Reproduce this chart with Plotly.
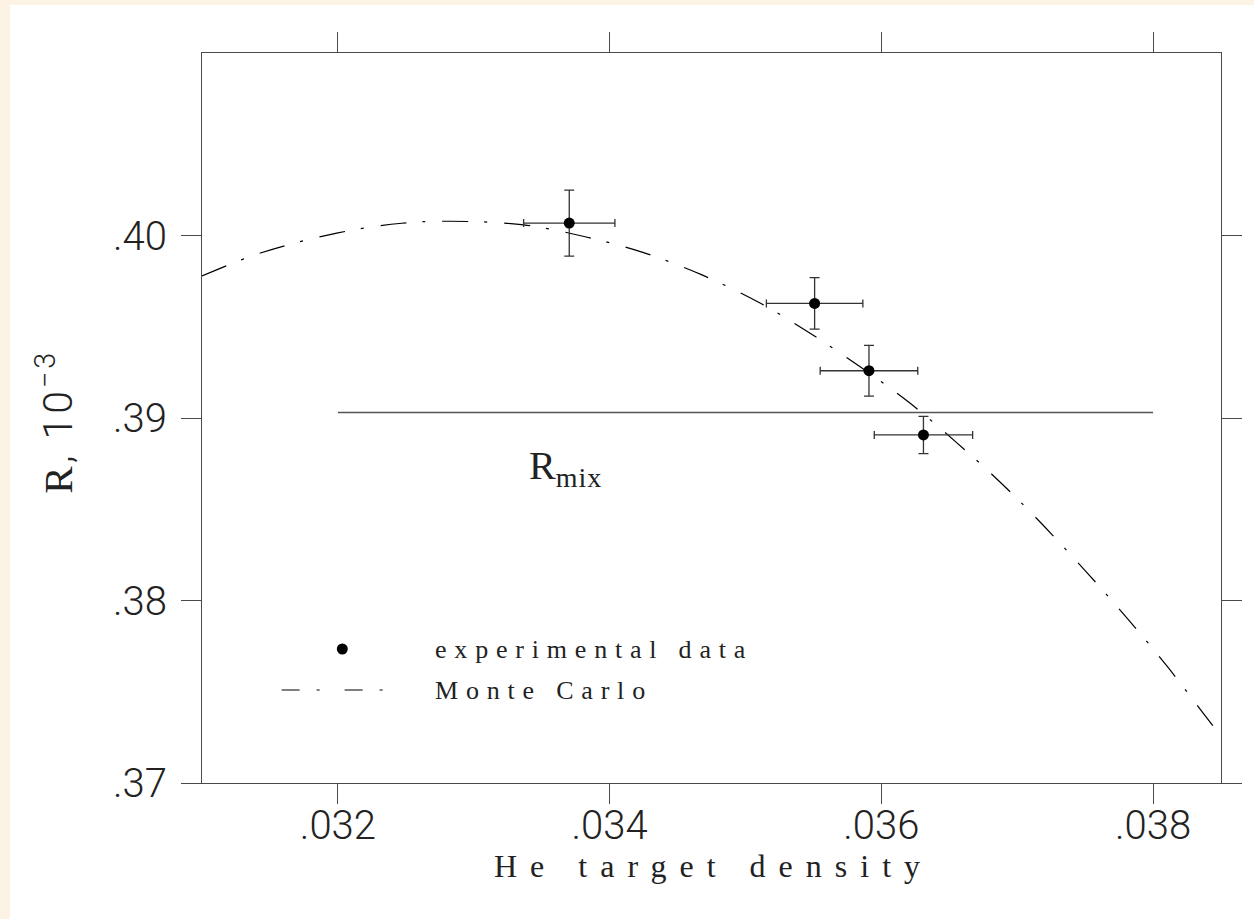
import plotly.graph_objects as go

# ---------------- data ----------------
density = [0.033703, 0.035509, 0.035909, 0.036310]
ratio = [0.40068, 0.39628, 0.39259, 0.38907]
density_err = [0.000336, 0.000355, 0.000359, 0.000362]
ratio_err = [0.00181, 0.00141, 0.00139, 0.00102]

mc_density = [0.03100, 0.03143, 0.03200, 0.03247, 0.03283, 0.03337, 0.03382,
              0.03425, 0.03468, 0.03509, 0.03547, 0.03586, 0.03621, 0.03655,
              0.03685, 0.03714, 0.03751, 0.03781, 0.03810, 0.03837, 0.03847]
mc_ratio = [0.39778, 0.39904, 0.40014, 0.40067, 0.40078, 0.40058, 0.39993,
            0.39906, 0.39784, 0.39637, 0.39467, 0.39272, 0.39082, 0.38868,
            0.38666, 0.38452, 0.38156, 0.37902, 0.37643, 0.37382, 0.37285]

rmix_density = [0.032, 0.038]
rmix_value = [0.3903, 0.3903]

x_tickvals = [0.032, 0.034, 0.036, 0.038]
x_ticktext = [".032", ".034", ".036", ".038"]
y_tickvals = [0.37, 0.38, 0.39, 0.40]
y_ticktext = [".37", ".38", ".39", ".40"]

# ---------------- figure ----------------
W, H = 1254, 919
L, R, T, B = 202, 28, 53, 136
PW, PH = W - L - R, H - T - B


def px(x):
    return (x - L) / PW


def py(y):
    return (H - B - y) / PH


SANS = "Roboto, Liberation Sans"
SERIF = "Liberation Serif"
INK = "#222222"
FRAME = "#4a4a4a"

fig = go.Figure()

fig.add_trace(go.Scatter(
    x=mc_density, y=mc_ratio, mode="lines", line_shape="spline",
    line=dict(color="black", width=1.2, dash="26px,16px,3px,17px"),
    showlegend=False, hoverinfo="skip"))

fig.add_trace(go.Scatter(
    x=rmix_density, y=rmix_value, mode="lines",
    line=dict(color="#555555", width=1.3), showlegend=False))

fig.add_trace(go.Scatter(
    x=density, y=ratio, mode="markers",
    marker=dict(color="black", size=11),
    error_x=dict(type="data", array=density_err, color="#333333",
                 thickness=1.3, width=4),
    error_y=dict(type="data", array=ratio_err, color="#333333",
                 thickness=1.3, width=5),
    showlegend=False))

shapes = [
    # page background (white sheet on cream)
    dict(type="rect", xref="paper", yref="paper", layer="below",
         x0=px(9), x1=px(W + 5), y0=py(H + 5), y1=py(5),
         fillcolor="white", line=dict(width=0)),
    # legend samples
    dict(type="circle", xref="paper", yref="paper",
         x0=px(337.5), x1=px(348.5), y0=py(654.5), y1=py(643.5),
         fillcolor="black", line=dict(color="black", width=0)),
    dict(type="line", xref="paper", yref="paper",
         x0=px(282), x1=px(392), y0=py(690), y1=py(690),
         line=dict(color="black", width=1.2, dash="18px,17px,3px,25px")),
]

annotations = [
    dict(xref="paper", yref="paper", x=px(434), y=py(649), xanchor="left",
         yanchor="middle", showarrow=False,
         text="<span style='letter-spacing:7.8px'>experimental data</span>",
         font=dict(family=SERIF, size=26, color=INK)),
    dict(xref="paper", yref="paper", x=px(434), y=py(690), xanchor="left",
         yanchor="middle", showarrow=False,
         text="<span style='letter-spacing:7.8px'>Monte Carlo</span>",
         font=dict(family=SERIF, size=26, color=INK)),
    dict(xref="paper", yref="paper", x=px(529), y=py(468), xanchor="left",
         yanchor="middle", showarrow=False,
         text="R<sub><span style='letter-spacing:1px'>mix</span></sub>",
         font=dict(family=SERIF, size=40, color=INK)),
    dict(xref="paper", yref="paper", x=px(716), y=py(866), xanchor="center",
         yanchor="middle", showarrow=False,
         text="<span style='letter-spacing:13px'>He target density</span>",
         font=dict(family=SERIF, size=32, color=INK)),
    dict(xref="paper", yref="paper", x=px(54), y=py(422), xanchor="center",
         yanchor="middle", showarrow=False, textangle=-90,
         text=("<span style='letter-spacing:3px'>"
               "<span style='font-family:Liberation Serif'>R</span>, 10"
               "<sup>\u22123</sup></span>"),
         font=dict(family=SANS, size=41, color=INK, weight=300)),
]

fig.update_layout(
    width=W, height=H,
    margin=dict(l=L, r=R, t=T, b=B, pad=0),
    paper_bgcolor="#fdf3e4",
    plot_bgcolor="white",
    showlegend=False,
    shapes=shapes,
    annotations=annotations,
    xaxis=dict(
        range=[0.031, 0.0385], tickmode="array", tickvals=x_tickvals,
        ticktext=x_ticktext, ticks="outside", ticklen=20, tickwidth=1.3,
        tickcolor=FRAME, showline=True, linecolor=FRAME, linewidth=1.3,
        mirror="ticks", showgrid=False, zeroline=False,
        tickfont=dict(family=SANS, size=40, color=INK, weight=300),
        ticklabelstandoff=-13,
    ),
    yaxis=dict(
        range=[0.37, 0.41], tickmode="array", tickvals=y_tickvals,
        ticktext=y_ticktext, ticks="outside", ticklen=20, tickwidth=1.3,
        tickcolor=FRAME, showline=True, linecolor=FRAME, linewidth=1.3,
        mirror="ticks", showgrid=False, zeroline=False,
        tickfont=dict(family=SANS, size=40, color=INK, weight=300),
        ticklabelstandoff=6,
    ),
)

fig.write_html("out.html")
